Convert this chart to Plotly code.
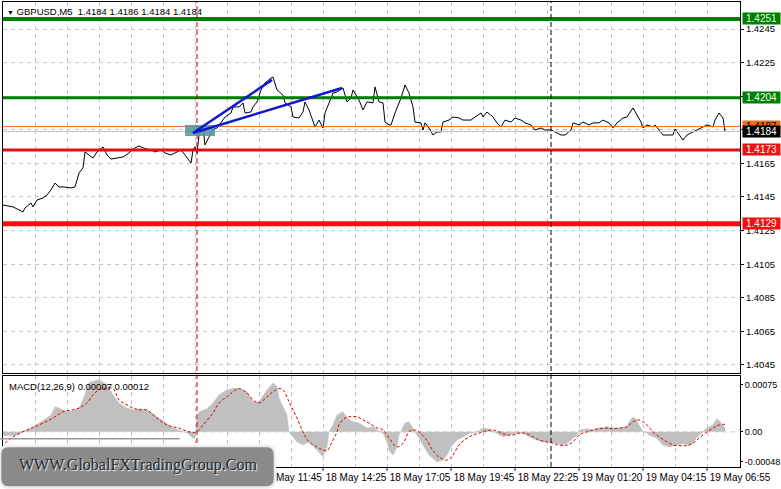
import plotly.graph_objects as go

# ---------------- data ----------------
price_bars = [0, 5, 10, 11, 14, 15, 17, 20, 22, 24, 26, 28, 30, 34, 36, 38, 40, 41, 43, 45, 47, 50, 52, 54, 57, 60,
              63, 65, 68, 70, 74, 76, 79, 81, 84, 86, 89, 91, 93, 94, 95, 96, 97, 98, 100, 101, 103, 105, 107, 109,
              111, 114, 115, 118, 120, 121, 124, 125, 127, 129, 131, 134, 135, 137, 140, 141, 144, 145, 148, 150,
              151, 153, 155, 156, 158, 160, 161, 163, 165, 167, 170, 172, 174, 175, 178, 180, 182, 185, 186, 188,
              190, 191, 193, 194, 196, 199, 201, 203, 205, 206, 209, 210, 211, 213, 215, 217, 219, 220, 223, 225,
              228, 230, 234, 236, 239, 240, 242, 245, 247, 249, 251, 254, 256, 259, 261, 264, 266, 269, 271, 274,
              276, 279, 281, 284, 285, 288, 290, 293, 295, 298, 300, 303, 305, 307, 310, 312, 315, 317, 319, 320,
              322, 325, 326, 328, 330, 332, 335, 336, 338, 340, 342, 345, 347, 350, 352, 355, 356, 358, 360, 361]
price_vals = [1.41402, 1.41391, 1.41361, 1.41385, 1.41414, 1.41391, 1.41432, 1.41444, 1.41462, 1.41492, 1.41533,
              1.41510, 1.41510, 1.41504, 1.41510, 1.41593, 1.41623, 1.41718, 1.41700, 1.41682, 1.41718, 1.41748,
              1.41700, 1.41676, 1.41682, 1.41688, 1.41712, 1.41736, 1.41754, 1.41742, 1.41730, 1.41718, 1.41730,
              1.41712, 1.41700, 1.41712, 1.41730, 1.41700, 1.41670, 1.41652, 1.41730, 1.41748, 1.41712, 1.41819,
              1.41861, 1.41760, 1.41807, 1.41849, 1.41861, 1.41891, 1.41926, 1.41950, 1.41986, 1.41986, 1.42010,
              1.41950, 1.41956, 1.41986, 1.42016, 1.42087, 1.42129, 1.42158, 1.42164, 1.42087, 1.42057, 1.42010,
              1.41986, 1.41926, 1.41920, 1.41956, 1.42016, 1.41968, 1.41891, 1.41867, 1.41908, 1.41861, 1.41950,
              1.42010, 1.42069, 1.42075, 1.42099, 1.42016, 1.42039, 1.42087, 1.42027, 1.41968, 1.42016, 1.42010,
              1.42105, 1.42016, 1.42010, 1.41896, 1.41879, 1.41879, 1.41950, 1.42039, 1.42117, 1.42069, 1.41986,
              1.41896, 1.41891, 1.41849, 1.41891, 1.41861, 1.41819, 1.41837, 1.41837, 1.41896, 1.41908, 1.41926,
              1.41920, 1.41908, 1.41908, 1.41926, 1.41950, 1.41926, 1.41956, 1.41926, 1.41891, 1.41867, 1.41908,
              1.41896, 1.41920, 1.41908, 1.41891, 1.41879, 1.41849, 1.41861, 1.41849, 1.41849, 1.41837, 1.41819,
              1.41819, 1.41849, 1.41891, 1.41879, 1.41896, 1.41879, 1.41891, 1.41891, 1.41908, 1.41891, 1.41861,
              1.41891, 1.41920, 1.41926, 1.41980, 1.41938, 1.41896, 1.41861, 1.41879, 1.41867, 1.41879, 1.41849,
              1.41819, 1.41819, 1.41819, 1.41855, 1.41819, 1.41789, 1.41819, 1.41837, 1.41849, 1.41867, 1.41879,
              1.41867, 1.41908, 1.41950, 1.41920, 1.41840]

macd_bars = [0, 6, 10, 14, 18, 24, 26, 28, 32, 35, 38, 41, 43, 44, 48, 52, 55, 58, 62, 65, 68, 72, 75, 78, 82, 85,
             88, 92, 95, 96, 97, 98, 102, 105, 108, 112, 115, 118, 122, 125, 128, 132, 135, 137, 138, 142, 143, 147,
             150, 153, 157, 160, 162, 163, 165, 167, 170, 172, 175, 178, 182, 185, 187, 190, 192, 193, 195, 197,
             198, 201, 203, 205, 207, 210, 213, 217, 220, 222, 224, 227, 230, 233, 237, 240, 243, 247, 250, 253,
             257, 260, 263, 267, 270, 273, 277, 280, 283, 287, 288, 292, 295, 298, 302, 305, 308, 312, 313, 315,
             317, 318, 320, 322, 323, 327, 330, 333, 337, 340, 343, 345, 347, 350, 352, 355, 357, 359, 361]
macd_vals = [-0.00006, -0.00006, 0.0, 0.00006, 0.00014, 0.00027, 0.00040, 0.00038, 0.00032, 0.00033, 0.00038,
             0.00059, 0.00078, 0.00080, 0.00083, 0.00075, 0.00059, 0.00046, 0.00038, 0.00035, 0.00037, 0.00035,
             0.00029, 0.00022, 0.00014, 0.00006, 0.00003, -0.00002, -0.00010, -0.00010, 0.00022, 0.00032, 0.00037,
             0.00046, 0.00059, 0.00067, 0.00069, 0.00069, 0.00064, 0.00048, 0.00048, 0.00067, 0.00078, 0.00072,
             0.00054, 0.00027, 0.0, -0.00016, -0.00021, -0.00016, -0.00029, -0.00040, -0.00024, 0.0, 0.00011,
             0.00027, 0.00032, 0.00022, 0.00016, 0.00014, 0.00006, 0.00008, 0.00003, -0.00002, -0.00016, -0.00029,
             -0.00037, -0.00024, -0.00005, 0.00014, 0.00016, 0.00006, -0.00005, -0.00021, -0.00037, -0.00048,
             -0.00045, -0.00037, -0.00024, -0.00013, -0.00008, -0.00003, 0.0, 0.00006, 0.00005, -0.00002, -0.00008,
             -0.00005, -0.00002, -0.00002, -0.00008, -0.00013, -0.00016, -0.00016, -0.00018, -0.00021, -0.00016,
             -0.00005, 0.00003, 0.00005, 0.00003, 0.00006, 0.00008, 0.00006, 0.00006, 0.00008, 0.00016, 0.00024,
             0.00019, 0.00011, 0.0, -0.00002, -0.00005, -0.00010, -0.00021, -0.00024, -0.00021, -0.00019, -0.00021,
             -0.00018, -0.00008, 0.0, 0.00006, 0.00011, 0.00021, 0.00014, 0.00007]

signal_bars = [1, 5, 12, 18, 25, 30, 35, 38, 42, 45, 48, 52, 55, 58, 62, 65, 68, 72, 75, 78, 82, 85, 88, 93, 97,
               100, 105, 108, 112, 115, 118, 122, 125, 128, 132, 135, 138, 140, 143, 145, 147, 150, 153, 157, 160,
               162, 163, 165, 167, 168, 171, 173, 177, 180, 183, 187, 190, 193, 197, 200, 203, 205, 208, 212, 215,
               218, 222, 225, 228, 232, 235, 238, 242, 245, 248, 252, 255, 258, 262, 265, 268, 272, 275, 278, 282,
               285, 288, 292, 295, 298, 302, 305, 308, 312, 315, 318, 322, 325, 328, 332, 335, 338, 342, 345, 348,
               352, 355, 358, 361]
signal_vals = [-0.00018, -0.00008, 0.00003, 0.00011, 0.00022, 0.00032, 0.00035, 0.00038, 0.00046, 0.00059,
               0.00067, 0.00070, 0.00069, 0.00051, 0.00043, 0.00038, 0.00035, 0.00035, 0.00027, 0.00019, 0.00011,
               0.00008, 0.00006, 0.0, 0.0, 0.00011, 0.00030, 0.00046, 0.00056, 0.00064, 0.00069, 0.00062, 0.00051,
               0.00046, 0.00056, 0.00064, 0.00069, 0.00067, 0.00048, 0.00035, 0.00022, 0.0, -0.00016, -0.00024,
               -0.00029, -0.00030, -0.00026, -0.00013, 0.0, 0.00011, 0.00022, 0.00024, 0.00024, 0.00019, 0.00014,
               0.00006, 0.00003, -0.00010, -0.00024, -0.00018, 0.0, 0.00003, 0.0, -0.00014, -0.00030, -0.00040,
               -0.00045, -0.00037, -0.00021, -0.00010, -0.00005, -0.00002, 0.00002, 0.00003, 0.0, -0.00005, -0.00005,
               -0.00002, -0.00003, -0.00008, -0.00013, -0.00016, -0.00018, -0.00021, -0.00021, -0.00016, -0.00005,
               0.0, 0.00003, 0.00005, 0.00006, 0.00005, 0.00006, 0.00008, 0.00016, 0.00019, 0.00011, 0.0, -0.00008,
               -0.00016, -0.00021, -0.00022, -0.00022, -0.00018, -0.00010, 0.0, 0.00006, 0.00011, 0.00012]

level_prices = [1.4251, 1.4204, 1.4187, 1.4184, 1.4173, 1.4129]
level_labels = ["1.4251", "1.4204", "1.4187", "1.4184", "1.4173", "1.4129"]

price_ticks = [1.4045, 1.4065, 1.4085, 1.4105, 1.4125, 1.4145, 1.4165, 1.4185, 1.4205, 1.4225, 1.4245]
price_tick_text = ["1.4045", "1.4065", "1.4085", "1.4105", "1.4125", "1.4145", "1.4165", "", "", "1.4225", "1.4245"]
macd_ticks = [0.00075, 0.0, -0.00048]
macd_tick_text = ["0.00075", "0.00", "-0.00048"]

grid_bars = [0, 16, 32, 48, 64, 80, 96, 112, 128, 144, 160, 176, 192, 208, 224, 240, 256, 272, 288, 304, 320,
             336, 352, 368]
grid_time_text = ["18 May 01:05", "", "18 May 03:45", "", "18 May 06:25", "", "18 May 09:05", "",
                  "18 May 11:45", "", "18 May 14:25", "", "18 May 17:05", "", "18 May 19:45", "",
                  "18 May 22:25", "", "19 May 01:20", "", "19 May 04:15", "", "19 May 06:55", ""]
time_bars = [0, 32, 64, 96, 128, 160, 192, 224, 256, 288, 320, 352]

vline_bars = [97, 274]
trend_start = (95, 1.41831)
trend_end_bars = [134.5, 169.5]
trend_end_prices = [1.42147, 1.42099]
box_bars = [91, 106]
box_prices = [1.41813, 1.41879]

title_text = "GBPUSD,M5  1.4184 1.4186 1.4184 1.4184"
macd_title = "MACD(12,26,9) 0.00007 0.00012"
watermark_text = "WWW.GlobalFXTradingGroup.Com"

# ---------------- styles ----------------
FONT = "Liberation Sans"
GRID = "#c4c4c4"
level_colors = ["#008000", "#008000", "#f26a22", "#c0c0c0", "#e01010", "#ff0a0a"]
level_widths = [4, 3, 1, 1, 3, 5]
tag_bg = ["#008000", "#008000", "#f26a22", "#000000", "#f01010", "#f01010"]
tag_fc = ["#e8ffe8", "#ffffff", "#000000", "#ffffff", "#ffffff", "#ffffff"]
vline_colors = ["#d00000", "#000000"]

fig = go.Figure(layout=dict(template="none"))

fig.add_trace(go.Scatter(x=macd_bars, y=macd_vals, mode="lines", fill="tozeroy",
                         fillcolor="#c0c0c0", line=dict(color="#c0c0c0", width=0.5),
                         xaxis="x2", yaxis="y2", hoverinfo="skip"))
fig.add_trace(go.Scatter(x=signal_bars, y=signal_vals, mode="lines", line_shape="spline",
                         line=dict(color="#e00000", width=1, dash="3px,2px"),
                         xaxis="x2", yaxis="y2", hoverinfo="skip"))
fig.add_trace(go.Scatter(x=price_bars, y=price_vals, mode="lines",
                         line=dict(color="black", width=1), xaxis="x", yaxis="y",
                         hoverinfo="skip"))

shapes = []
# MACD zero line
shapes.append(dict(type="line", xref="paper", yref="y2", x0=0, x1=1, y0=0, y1=0,
                   line=dict(color=GRID, width=1, dash="4px,4px"), layer="below"))
# horizontal levels
for p, c, w in zip(level_prices, level_colors, level_widths):
    shapes.append(dict(type="line", xref="paper", yref="y", x0=0, x1=1, y0=p, y1=p,
                       line=dict(color=c, width=w), layer="above"))
# vertical dashed lines
for b, c in zip(vline_bars, vline_colors):
    shapes.append(dict(type="line", xref="x", yref="paper", x0=b, x1=b, y0=0, y1=1,
                       line=dict(color=c, width=1, dash="5px,3px"), layer="above"))
# teal rectangle
shapes.append(dict(type="rect", xref="x", yref="y", x0=box_bars[0], x1=box_bars[1],
                   y0=box_prices[0], y1=box_prices[1], fillcolor="rgba(80,150,160,0.85)",
                   line=dict(width=0), layer="above"))
# trend lines
for xe, ye in zip(trend_end_bars, trend_end_prices):
    shapes.append(dict(type="line", xref="x", yref="y", x0=trend_start[0], y0=trend_start[1],
                       x1=xe, y1=ye, line=dict(color="#1414d2", width=2.5), layer="above"))
# time-axis tick marks (at labelled positions)
for b in time_bars:
    shapes.append(dict(type="line", xref="x2", yref="paper", x0=b, x1=b, y0=0, y1=-0.008,
                       line=dict(color="black", width=1), layer="above"))

# watermark box (paper coords)
x0, x1, y0, y1 = -0.004, 0.369, -0.044, 0.045
rx, ry = 0.011, 0.018
path = (f"M {x0+rx},{y1} L {x1-rx},{y1} Q {x1},{y1} {x1},{y1-ry} L {x1},{y0+ry} "
        f"Q {x1},{y0} {x1-rx},{y0} L {x0+rx},{y0} Q {x0},{y0} {x0},{y0+ry} "
        f"L {x0},{y1-ry} Q {x0},{y1} {x0+rx},{y1} Z")
shapes.append(dict(type="line", xref="paper", yref="paper", x0=-0.004, x1=0.24, y0=0.061, y1=0.061,
                   line=dict(color="#9a9a9a", width=1.5), layer="above"))
shapes.append(dict(type="path", xref="paper", yref="paper", path=path, fillcolor="#8a8a8a",
                   line=dict(color="#eeeeee", width=2.5), layer="above"))

annotations = []
# price tags on the right
for p, lab, bg, fc in zip(level_prices, level_labels, tag_bg, tag_fc):
    annotations.append(dict(x=1, xref="paper", xanchor="left", xshift=2, y=p, yref="y",
                            yanchor="middle", text=lab, showarrow=False, bgcolor=bg,
                            font=dict(color=fc, size=10, family=FONT), width=37, height=11,
                            align="center", borderpad=0))
annotations.append(dict(x=0, xref="paper", xanchor="left", xshift=2, y=1, yref="paper",
                        yanchor="top", yshift=-2, showarrow=False, align="left",
                        text="<span style='font-size:7px'>▼</span> " + title_text,
                        font=dict(size=9.5, family=FONT, color="black")))
annotations.append(dict(x=0, xref="paper", xanchor="left", xshift=4, y=0.1957, yref="paper",
                        yanchor="top", yshift=-3, showarrow=False, align="left",
                        text=macd_title, font=dict(size=9.5, family=FONT, color="black")))
annotations.append(dict(x=0.1825, xref="paper", xanchor="center", y=0.004, yref="paper",
                        yanchor="middle", showarrow=False, text=watermark_text,
                        font=dict(size=16, family="Liberation Serif", color="#262626",
                                  shadow="1px 1px 1px #ffffff")))

axis_common = dict(showline=True, linecolor="black", linewidth=1, mirror=True, zeroline=False,
                   automargin=False)

fig.update_layout(
    width=781, height=489,
    margin=dict(l=3, r=41, t=2, b=22),
    paper_bgcolor="white", plot_bgcolor="white",
    showlegend=False,
    font=dict(family=FONT, size=10, color="black"),
    xaxis=dict(domain=[0, 1], anchor="y", range=[0, 368.5], tickvals=grid_bars,
               showticklabels=False, ticks="", showgrid=True, gridcolor=GRID, griddash="4px,4px",
               gridwidth=1, **axis_common),
    yaxis=dict(domain=[0.2022, 1], anchor="x", side="right", range=[1.404024, 1.426107],
               tickvals=price_ticks, ticktext=price_tick_text, ticks="outside", ticklen=3,
               tickcolor="black", showgrid=True, gridcolor=GRID, griddash="4px,4px",
               tickfont=dict(size=9.5, family=FONT), **axis_common),
    xaxis2=dict(domain=[0, 1], anchor="y2", range=[0, 368.5], tickvals=grid_bars,
                ticktext=grid_time_text, ticks="", ticklabelshift=33, ticklabelstandoff=1,
                tickangle=0, showgrid=True, gridcolor=GRID, griddash="4px,4px",
                tickfont=dict(size=10, family=FONT), **axis_common),
    yaxis2=dict(domain=[0, 0.1957], anchor="x2", side="right", range=[-0.00056, 0.00089],
                tickvals=macd_ticks, ticktext=macd_tick_text, ticks="outside", ticklen=2,
                tickcolor="black", showgrid=False, tickfont=dict(size=9, family=FONT),
                **axis_common),
    shapes=shapes,
    annotations=annotations,
)

fig.write_html("out.html", config={"displayModeBar": False},
               post_script="document.body.style.margin='0';document.body.style.overflow='hidden';")
